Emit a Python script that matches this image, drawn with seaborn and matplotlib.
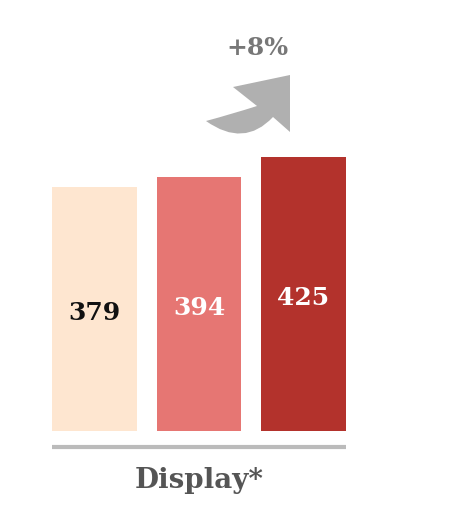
import matplotlib
matplotlib.use("Agg")
import matplotlib.pyplot as plt
import seaborn as sns
import pandas as pd
from matplotlib.patches import PathPatch
from matplotlib.path import Path

categories = ["A", "B", "C"]
values = [379, 394, 425]
labels = ["379", "394", "425"]
colors = ["#FEE6D0", "#E67673", "#B3322C"]
label_colors = ["#111111", "#FFFFFF", "#FFFFFF"]
group_label = "Display*"
change_label = "+8%"

sns.set_theme(style="white")
plt.rcParams['font.family'] = ['DejaVu Serif']

W, H = 462, 511
fig = plt.figure(figsize=(W / 100, H / 100), dpi=100)
ax = fig.add_axes([42.25 / W, 0, (355.75 - 42.25) / W, 1])

df = pd.DataFrame({"cat": categories, "val": values})
sns.barplot(data=df, x="cat", y="val", hue="cat", palette=colors, width=0.81,
            legend=False, ax=ax, saturation=1, linewidth=0)

ppu = 274 / 425.0
ax.set_xlim(-0.5, 2.5)
ax.set_ylim(-80 / ppu, 431 / ppu)
ax.axis("off")

for i, (v, lab, c) in enumerate(zip(values, labels, label_colors)):
    ax.text(i, v / 2 - 6, lab, ha="center", va="center", fontsize=18,
            fontweight="bold", color=c)

ax.plot([-0.405, 2.405], [-16 / ppu, -16 / ppu], color="#BBBBBB", lw=3,
        solid_capstyle="butt", clip_on=False)
ax.text(1, -49 / ppu, group_label, ha="center", va="center", fontsize=20,
        fontweight="bold", color="#555555")

fig.text(257 / W, 1 - 48 / H, change_label, ha="center", va="center",
         fontsize=18, fontweight="bold", color="#777777")

# curved "growth" arrow outline (pixel coords, y measured from top)
pts = [(206, 121), (232, 114), (257, 106), (233, 87), (290, 75),
       (290, 132), (273, 117), (244, 148), (206, 121), (206, 121)]
codes = [Path.MOVETO, Path.CURVE3, Path.CURVE3, Path.LINETO, Path.LINETO,
         Path.LINETO, Path.LINETO, Path.CURVE3, Path.CURVE3, Path.CLOSEPOLY]
verts = [(x / W, 1 - y / H) for x, y in pts]
fig.patches.append(PathPatch(Path(verts, codes), transform=fig.transFigure,
                             facecolor="#B0B0B0", edgecolor="none"))

fig.savefig("out.png", dpi=100)
